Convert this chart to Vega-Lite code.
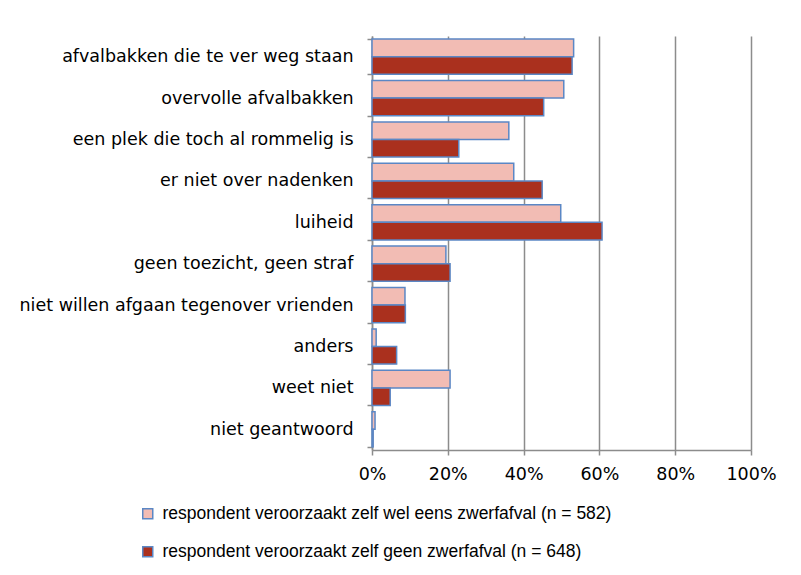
{
  "$schema": "https://vega.github.io/schema/vega-lite/v6.json",
  "autosize": {"type": "none"},
  "padding": {"left": 372, "top": 36, "right": 50, "bottom": 125},
  "width": 379,
  "height": 414,
  "background": "white",
  "data": {
    "values": [
      {"reden": "afvalbakken die te ver weg staan", "groep": "respondent veroorzaakt zelf wel eens zwerfafval (n = 582)", "pct": 0.532},
      {"reden": "afvalbakken die te ver weg staan", "groep": "respondent veroorzaakt zelf geen zwerfafval (n = 648)", "pct": 0.528},
      {"reden": "overvolle afvalbakken", "groep": "respondent veroorzaakt zelf wel eens zwerfafval (n = 582)", "pct": 0.506},
      {"reden": "overvolle afvalbakken", "groep": "respondent veroorzaakt zelf geen zwerfafval (n = 648)", "pct": 0.453},
      {"reden": "een plek die toch al rommelig is", "groep": "respondent veroorzaakt zelf wel eens zwerfafval (n = 582)", "pct": 0.361},
      {"reden": "een plek die toch al rommelig is", "groep": "respondent veroorzaakt zelf geen zwerfafval (n = 648)", "pct": 0.229},
      {"reden": "er niet over nadenken", "groep": "respondent veroorzaakt zelf wel eens zwerfafval (n = 582)", "pct": 0.374},
      {"reden": "er niet over nadenken", "groep": "respondent veroorzaakt zelf geen zwerfafval (n = 648)", "pct": 0.449},
      {"reden": "luiheid", "groep": "respondent veroorzaakt zelf wel eens zwerfafval (n = 582)", "pct": 0.498},
      {"reden": "luiheid", "groep": "respondent veroorzaakt zelf geen zwerfafval (n = 648)", "pct": 0.607},
      {"reden": "geen toezicht, geen straf", "groep": "respondent veroorzaakt zelf wel eens zwerfafval (n = 582)", "pct": 0.195},
      {"reden": "geen toezicht, geen straf", "groep": "respondent veroorzaakt zelf geen zwerfafval (n = 648)", "pct": 0.206},
      {"reden": "niet willen afgaan tegenover vrienden", "groep": "respondent veroorzaakt zelf wel eens zwerfafval (n = 582)", "pct": 0.087},
      {"reden": "niet willen afgaan tegenover vrienden", "groep": "respondent veroorzaakt zelf geen zwerfafval (n = 648)", "pct": 0.088},
      {"reden": "anders", "groep": "respondent veroorzaakt zelf wel eens zwerfafval (n = 582)", "pct": 0.011},
      {"reden": "anders", "groep": "respondent veroorzaakt zelf geen zwerfafval (n = 648)", "pct": 0.065},
      {"reden": "weet niet", "groep": "respondent veroorzaakt zelf wel eens zwerfafval (n = 582)", "pct": 0.206},
      {"reden": "weet niet", "groep": "respondent veroorzaakt zelf geen zwerfafval (n = 648)", "pct": 0.048},
      {"reden": "niet geantwoord", "groep": "respondent veroorzaakt zelf wel eens zwerfafval (n = 582)", "pct": 0.008},
      {"reden": "niet geantwoord", "groep": "respondent veroorzaakt zelf geen zwerfafval (n = 648)", "pct": 0.003}
    ]
  },
  "mark": {"type": "bar", "stroke": "#5b87c5", "strokeWidth": 1.5},
  "encoding": {
    "y": {
      "field": "reden",
      "type": "nominal",
      "sort": null,
      "scale": {"paddingInner": 0.15, "paddingOuter": 0.075},
      "axis": {
        "title": null,
        "domainColor": "#8c8c8c",
        "domainWidth": 1.5,
        "tickColor": "#8c8c8c",
        "tickWidth": 1.5,
        "tickSize": 5,
        "tickBand": "extent",
        "labelPadding": 14,
        "labelFont": "DejaVu Sans",
        "labelFontSize": 17.5,
        "labelColor": "#000000",
        "labelLimit": 400,
        "grid": false
      }
    },
    "yOffset": {
      "field": "groep",
      "type": "nominal",
      "sort": null,
      "scale": {"paddingInner": 0, "paddingOuter": 0}
    },
    "x": {
      "field": "pct",
      "type": "quantitative",
      "scale": {"domain": [0, 1], "nice": false},
      "axis": {
        "title": null,
        "format": ".0%",
        "values": [0, 0.2, 0.4, 0.6, 0.8, 1],
        "grid": true,
        "gridColor": "#8c8c8c",
        "gridWidth": 1.5,
        "domainColor": "#8c8c8c",
        "domainWidth": 1.5,
        "tickColor": "#8c8c8c",
        "tickWidth": 1.5,
        "tickSize": 5,
        "labelPadding": 10,
        "labelFont": "DejaVu Sans",
        "labelFontSize": 17.5,
        "labelColor": "#000000",
        "labelFlush": false
      }
    },
    "color": {
      "field": "groep",
      "type": "nominal",
      "sort": null,
      "scale": {"range": ["#f2bcb4", "#aa301e"]},
      "legend": {
        "title": null,
        "orient": "none",
        "legendX": -233,
        "legendY": 469,
        "direction": "vertical",
        "symbolType": "square",
        "symbolSize": 100,
        "symbolStrokeColor": "#5b87c5",
        "symbolStrokeWidth": 1.5,
        "symbolOpacity": 1,
        "labelFont": "Liberation Sans",
        "labelFontSize": 17.5,
        "labelColor": "#000000",
        "labelLimit": 600,
        "labelOffset": 6,
        "rowPadding": 19
      }
    }
  },
  "config": {
    "view": {"stroke": null}
  }
}
